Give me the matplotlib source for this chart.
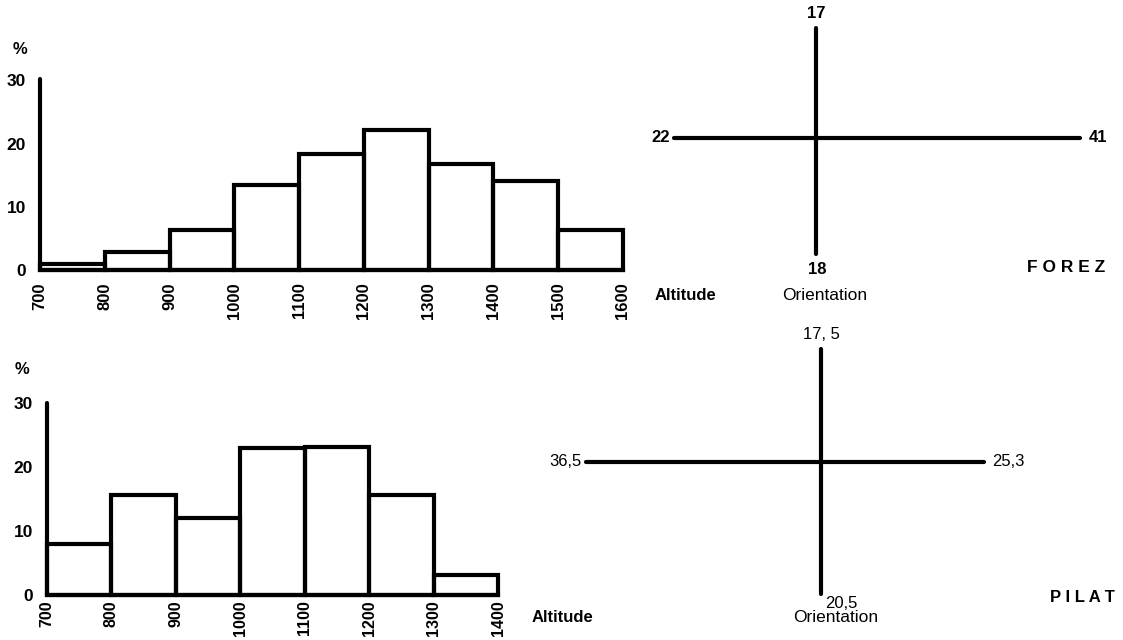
import matplotlib
matplotlib.use("Agg")
import matplotlib.pyplot as plt

plt.rcParams['font.family'] = ['Liberation Sans', 'DejaVu Sans']

# ---------------- data ----------------
forez_edges = [700, 800, 900, 1000, 1100, 1200, 1300, 1400, 1500, 1600]
forez_pct = [1.0, 2.9, 6.4, 13.4, 18.3, 22.2, 16.8, 14.0, 6.3]

pilat_edges = [700, 800, 900, 1000, 1100, 1200, 1300, 1400]
pilat_pct = [8.0, 15.6, 12.1, 23.0, 23.1, 15.7, 3.1]

y_ticks = [0, 10, 20, 30]

# orientation: north, south, west, east
forez_orient = [17, 18, 22, 41]
forez_orient_labels = ["17", "18", "22", "41"]
pilat_orient = [17.5, 20.5, 36.5, 25.3]
pilat_orient_labels = ["17, 5", "20,5", "36,5", "25,3"]

# ---------------- layout helpers ----------------
W, H = 1123, 640
fig = plt.figure(figsize=(W / 100, H / 100), dpi=100)
fig.patch.set_facecolor("white")


def rect(l, t, r, b):
    return [l / W, 1 - b / H, (r - l) / W, (b - t) / H]


def fx(x):
    return x / W


def fy(y):
    return 1 - y / H


LW = 3.0


def histogram(box, edges, values, ylim_top, xsize, xpad):
    ax = fig.add_axes(rect(*box))
    widths = [edges[i + 1] - edges[i] for i in range(len(values))]
    ax.bar(edges[:-1], values, width=widths, align='edge', fill=False,
           edgecolor='black', linewidth=LW, clip_on=False, joinstyle='miter')
    ax.set_xlim(edges[0], edges[-1])
    ax.set_ylim(0, ylim_top)
    for s in ['top', 'right']:
        ax.spines[s].set_visible(False)
    ax.spines['left'].set_linewidth(LW)
    ax.spines['bottom'].set_linewidth(LW)
    ax.spines['left'].set_capstyle('round')
    ax.set_yticks(y_ticks)
    ax.set_yticklabels([str(v) for v in y_ticks], fontsize=12.5, fontweight='bold')
    ax.set_xticks(edges)
    ax.set_xticklabels([str(e) for e in edges], rotation=90, fontsize=xsize,
                       fontweight='bold')
    ax.tick_params(axis='y', length=0, pad=10)
    ax.tick_params(axis='x', length=0, pad=xpad)
    ax.patch.set_alpha(0)
    return ax


histogram((40, 79, 623, 270), forez_edges, forez_pct, 30.2, 12, 9)
histogram((47, 403, 498, 595), pilat_edges, pilat_pct, 30.0, 11.5, 4)

fig.text(fx(20), fy(50), "%", fontsize=12, fontweight='bold', ha='center', va='center')
fig.text(fx(22), fy(370), "%", fontsize=12, fontweight='bold', ha='center', va='center')

# ---------------- orientation crosses ----------------
S = 6.45  # pixels per unit


def cross(cx, cy, vals, labels, weight, label_style):
    n, s_, w, e = vals
    xmin, xmax, ymin, ymax = -w - 8, e + 8, -s_ - 4, n + 4
    ax = fig.add_axes(rect(cx + xmin * S, cy - ymax * S, cx + xmax * S, cy - ymin * S))
    ax.set_xlim(xmin, xmax)
    ax.set_ylim(ymin, ymax)
    ax.axis('off')
    kw = dict(color='black', linewidth=LW, solid_capstyle='round')
    ax.plot([0, 0], [0, n], **kw)
    ax.plot([0, 0], [0, -s_], **kw)
    ax.plot([-w, 0], [0, 0], **kw)
    ax.plot([0, e], [0, 0], **kw)
    tk = dict(fontsize=12, fontweight=weight, textcoords='offset points')
    ax.annotate(labels[0], (0, n), xytext=(0, 5), ha='center', va='bottom', **tk)
    if label_style == 'forez':
        ax.annotate(labels[1], (0, -s_), xytext=(1, -6), ha='center', va='top', **tk)
    else:
        ax.annotate(labels[1], (0, -s_), xytext=(3, -1), ha='left', va='top', **tk)
    ax.annotate(labels[2], (-w, 0), xytext=(-3, 0), ha='right', va='center', **tk)
    ax.annotate(labels[3], (e, 0), xytext=(6, 0), ha='left', va='center', **tk)
    return ax


cross(816, 138, forez_orient, forez_orient_labels, 'bold', 'forez')
cross(821, 462, pilat_orient, pilat_orient_labels, 'normal', 'pilat')

# ---------------- captions ----------------
fig.text(fx(655), fy(295), "Altitude", fontsize=12, fontweight='bold', ha='left', va='center')
fig.text(fx(825), fy(295), "Orientation", fontsize=12.5, ha='center', va='center')
fig.text(fx(532), fy(618), "Altitude", fontsize=12, fontweight='bold', ha='left', va='center')
fig.text(fx(836), fy(618), "Orientation", fontsize=12.5, ha='center', va='center')

fig.text(fx(1027), fy(267), "F O R E Z", fontsize=12.5, fontweight='bold', ha='left', va='center')
fig.text(fx(1050), fy(597), "P I L A T", fontsize=12, fontweight='bold', ha='left', va='center')

fig.savefig("out.png", dpi=100, facecolor='white')
